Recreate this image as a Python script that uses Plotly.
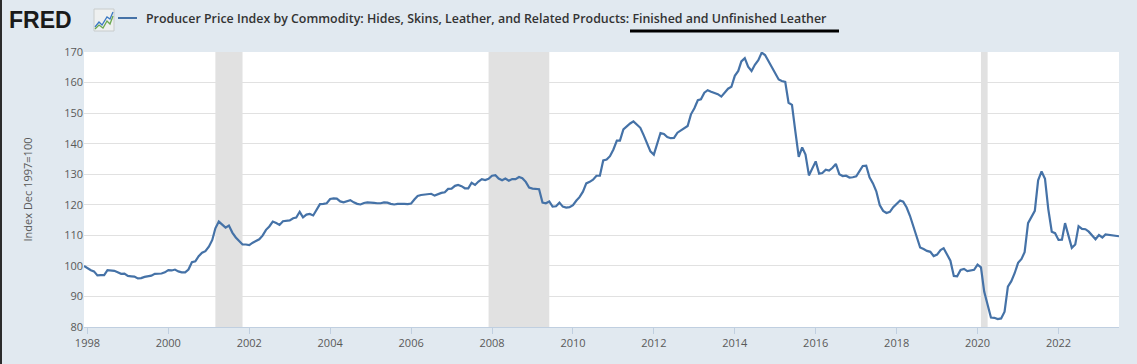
import pandas as pd
import plotly.graph_objects as go

# ---- data (monthly, Dec 1997 .. Jul 2023) ----
start_month = "1997-12-01"
v1997 = [100.0]
v1998 = [99.2, 98.6, 98.2, 96.9, 97.0, 97.0, 98.6, 98.5, 98.4, 97.9, 97.4, 97.5]
v1999 = [96.7, 96.6, 96.5, 95.9, 96.0, 96.4, 96.6, 96.8, 97.4, 97.5, 97.5, 97.9]
v2000 = [98.6, 98.5, 98.8, 98.2, 97.9, 97.9, 98.8, 101.2, 101.5, 103.2, 104.3, 104.8]
v2001 = [106.3, 108.5, 112.3, 114.5, 113.4, 112.5, 113.2, 110.9, 109.3, 108.2, 107.0, 107.0]
v2002 = [106.8, 107.6, 108.1, 108.7, 109.9, 111.8, 112.9, 114.5, 114.0, 113.4, 114.6, 114.8]
v2003 = [114.9, 115.6, 115.8, 117.7, 115.9, 116.8, 117.0, 116.5, 118.6, 120.2, 120.3, 120.5]
v2004 = [121.9, 122.1, 122.0, 121.1, 120.8, 121.1, 121.5, 120.8, 120.3, 120.1, 120.6, 120.8]
v2005 = [120.8, 120.6, 120.5, 120.5, 120.8, 120.7, 120.3, 120.1, 120.3, 120.4, 120.3, 120.2]
v2006 = [120.4, 121.8, 122.9, 123.2, 123.3, 123.3, 123.6, 123.0, 123.6, 123.9, 124.1, 125.2]
v2007 = [125.3, 126.2, 126.5, 126.1, 125.4, 125.4, 127.2, 126.5, 127.6, 128.4, 128.1, 128.5]
v2008 = [129.5, 129.7, 128.6, 128.0, 128.6, 127.9, 128.4, 128.4, 129.1, 128.7, 127.5, 125.6]
v2009 = [125.3, 125.2, 125.1, 120.7, 120.5, 121.1, 119.4, 119.5, 120.7, 119.4, 119.1, 119.2]
v2010 = [119.9, 121.4, 122.5, 124.3, 127.0, 127.5, 128.2, 129.5, 129.5, 134.5, 134.8, 135.9]
v2011 = [138.1, 141.0, 141.0, 144.7, 145.8, 146.6, 147.3, 146.3, 145.2, 142.8, 140.1, 137.5]
v2012 = [136.4, 139.9, 143.5, 143.2, 142.2, 141.8, 141.9, 143.6, 144.4, 144.9, 145.8, 149.6]
v2013 = [151.6, 154.2, 154.5, 156.7, 157.5, 157.0, 156.6, 156.2, 155.4, 156.7, 158.0, 158.6]
v2014 = [162.2, 163.8, 166.9, 168.0, 165.2, 163.8, 165.8, 167.3, 169.8, 169.0, 167.1, 164.9]
v2015 = [163.2, 161.0, 160.5, 160.2, 153.4, 152.7, 144.1, 135.7, 138.8, 136.4, 129.6, 132.1]
v2016 = [134.2, 130.2, 130.4, 131.5, 131.2, 132.1, 133.4, 130.0, 129.4, 129.5, 128.9, 129.0]
v2017 = [129.3, 131.1, 132.7, 132.8, 129.0, 127.0, 124.4, 119.9, 118.0, 117.3, 117.7, 119.2]
v2018 = [120.2, 121.4, 121.0, 119.1, 116.4, 112.7, 109.3, 106.0, 105.5, 104.9, 104.6, 103.2]
v2019 = [103.7, 105.2, 105.8, 103.6, 101.7, 96.7, 96.6, 98.7, 99.0, 98.3, 98.4, 98.7]
v2020 = [100.4, 99.5, 91.6, 86.8, 83.1, 83.0, 82.6, 82.8, 85.0, 93.2, 95.0, 97.6]
v2021 = [101.0, 102.3, 104.5, 114.0, 115.8, 118.0, 128.0, 130.9, 128.5, 118.5, 111.2, 110.7]
v2022 = [108.5, 108.6, 114.0, 109.8, 105.9, 107.0, 113.0, 112.1, 112.0, 111.2, 110.1, 108.7]
v2023 = [110.1, 109.3, 110.3, 110.2, 110.0, 109.8, 109.7]

values = (v1997 + v1998 + v1999 + v2000 + v2001 + v2002 + v2003 + v2004 + v2005
          + v2006 + v2007 + v2008 + v2009 + v2010 + v2011 + v2012 + v2013 + v2014
          + v2015 + v2016 + v2017 + v2018 + v2019 + v2020 + v2021 + v2022 + v2023)
dates = pd.date_range(start_month, periods=len(values), freq="MS")

recession_starts = ["2001-03-01", "2007-12-01", "2020-02-01"]
recession_ends = ["2001-11-01", "2009-06-01", "2020-04-01"]

tick_years = [str(y) for y in range(1998, 2024, 2)]
tick_vals = [f"{y}-01-01" for y in tick_years]

series_name = ("Producer Price Index by Commodity: Hides, Skins, Leather, and Related "
               "Products: Finished and Unfinished Leather")

# ---- figure ----
W, H = 1137, 364
L, R, T, B = 84, 18, 52, 37
pw, ph = W - L - R, H - T - B


def px(x):
    return (x - L) / pw


def py(y):
    return (H - B - y) / ph


BG = "#e1e9f0"
LINE = "#4572a7"

fig = go.Figure()
fig.add_trace(go.Scatter(x=dates, y=values, mode="lines",
                         line=dict(color=LINE, width=2.2), showlegend=False,
                         hoverinfo="skip"))

shapes = []
for s, e in zip(recession_starts, recession_ends):
    shapes.append(dict(type="rect", xref="x", yref="paper", x0=s, x1=e, y0=0, y1=1,
                       fillcolor="#e1e1e1", line=dict(width=0), layer="below"))

# legend line
shapes.append(dict(type="line", xref="paper", yref="paper",
                   x0=px(118), x1=px(137), y0=py(18), y1=py(18),
                   line=dict(color=LINE, width=2)))
# underline mark
shapes.append(dict(type="line", xref="paper", yref="paper",
                   x0=px(630), x1=px(839), y0=py(31), y1=py(31),
                   line=dict(color="black", width=3)))
# left dark border
shapes.append(dict(type="line", xref="paper", yref="paper",
                   x0=px(1), x1=px(1), y0=py(0), y1=py(H),
                   line=dict(color="#2b2b2b", width=2)))
# FRED icon box
shapes.append(dict(type="rect", xref="paper", yref="paper",
                   x0=px(94), x1=px(114), y0=py(9), y1=py(31),
                   fillcolor="#eef0f0", line=dict(color="#c8cccc", width=1)))
shapes.append(dict(type="path", xref="paper", yref="paper",
                   path=(f"M {px(95)},{py(27)} L {px(99)},{py(22)} L {px(102)},{py(25)} "
                         f"L {px(107)},{py(17)} L {px(110)},{py(19)} L {px(113)},{py(12)}"),
                   line=dict(color="#3b78c2", width=1.3)))
shapes.append(dict(type="path", xref="paper", yref="paper",
                   path=(f"M {px(95)},{py(29)} L {px(99)},{py(25)} L {px(103)},{py(28)} "
                         f"L {px(107)},{py(21)} L {px(110)},{py(24)} L {px(113)},{py(16)}"),
                   line=dict(color="#6aa84f", width=1.3)))

annotations = [
    dict(text="<b>FRED</b>", xref="paper", yref="paper", x=px(7), y=py(20),
         xanchor="left", yanchor="middle", showarrow=False,
         font=dict(family="Liberation Sans", size=23, color="#1a1a1a")),
    dict(text=series_name, xref="paper", yref="paper", x=px(144), y=py(19),
         xanchor="left", yanchor="middle", showarrow=False,
         font=dict(family="Open Sans", size=12.4, color="#333333", weight=600)),
]

fig.update_layout(
    width=W, height=H,
    margin=dict(l=L, r=R, t=T, b=B, autoexpand=False),
    paper_bgcolor=BG, plot_bgcolor="white",
    shapes=shapes, annotations=annotations,
    font=dict(family="Open Sans", size=11, color="#595959"),
    xaxis=dict(range=[dates[0], dates[-1]], tickvals=tick_vals, ticktext=tick_years,
               showgrid=False, ticks="outside", ticklen=6, tickcolor="#c0cfe0",
               showline=True, linecolor="#c0cfe0", linewidth=1, automargin=False,
               tickfont=dict(size=11, color="#595959"), zeroline=False),
    yaxis=dict(range=[80, 170], dtick=10, showgrid=True, gridcolor="#e1e1e1",
               gridwidth=1, zeroline=False, ticks="", showline=False, automargin=False,
               tickfont=dict(size=11, color="#595959"),
               title=dict(text="Index Dec 1997=100", font=dict(size=11, color="#595959"),
                          standoff=29)),
)

fig.write_html("out.html", config={"displayModeBar": False},
               post_script="document.body.style.margin='0';document.body.style.background='#e1e9f0';")
